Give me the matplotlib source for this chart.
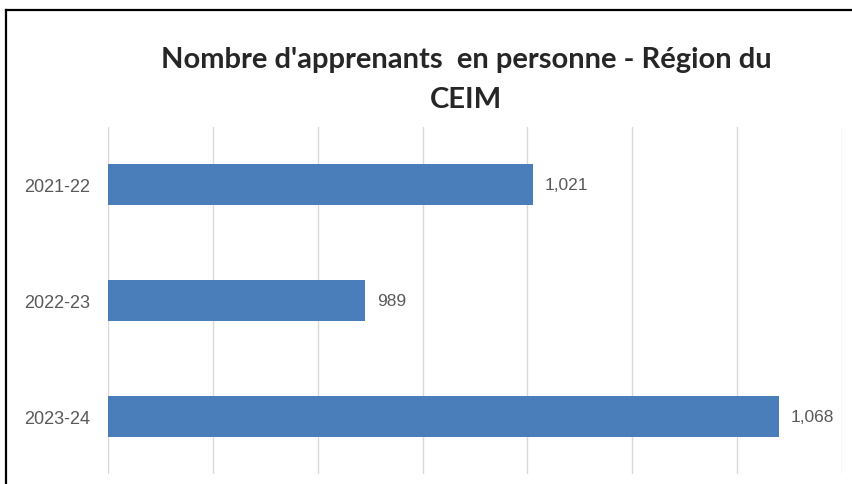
import matplotlib
matplotlib.use("Agg")
import matplotlib.pyplot as plt
from matplotlib.lines import Line2D

years = ["2021-22", "2022-23", "2023-24"]
learners = [1021, 989, 1068]
grid_ticks = [940, 960, 980, 1000, 1020, 1040, 1060, 1080]

bar_color = "#4A7EBB"
text_gray = "#595959"

fig = plt.figure(figsize=(8.53, 4.85), dpi=100)
ax = fig.add_axes([108 / 853, 10 / 485, 734 / 853, 347 / 485])

pos = list(range(len(years)))
bars = ax.barh(pos, [v - grid_ticks[0] for v in learners], left=grid_ticks[0],
               height=0.355, color=bar_color, zorder=3)

ax.set_xlim(grid_ticks[0], grid_ticks[-1])
ax.set_ylim(len(years) - 0.5, -0.5)
ax.set_xticks(grid_ticks)
ax.set_xticklabels([])
ax.tick_params(axis="x", length=0)
ax.set_yticks(pos)
ax.set_yticklabels(years, fontsize=13, color=text_gray, family="Liberation Sans")
ax.tick_params(axis="y", length=0, pad=13)
ax.grid(axis="x", color="#D9D9D9", linewidth=1, zorder=0)
for s in ax.spines.values():
    s.set_visible(False)

# value labels after each bar
for y, v in zip(pos, learners):
    ax.annotate(f"{v:,}", xy=(v, y), xytext=(8.5, 0), textcoords="offset points",
                va="center", ha="left", fontsize=12.5, color=text_gray,
                family="Liberation Sans")

fig.text(466 / 853, 1 - 60 / 485, "Nombre d'apprenants  en personne - Région du",
         ha="center", va="center", fontsize=21, fontweight="bold", family="Lato",
         color="#262626")
fig.text(466 / 853, 1 - 100 / 485, "CEIM", ha="center", va="center",
         fontsize=21, fontweight="bold", family="Lato", color="#262626")

# frame along the top and left edges
fig.add_artist(Line2D([6 / 853, 1], [1 - 11 / 485, 1 - 11 / 485],
                      transform=fig.transFigure, color="black", linewidth=1.6))
fig.add_artist(Line2D([6 / 853, 6 / 853], [0, 1 - 11 / 485],
                      transform=fig.transFigure, color="black", linewidth=1.6))

fig.savefig("out.png", dpi=100)
